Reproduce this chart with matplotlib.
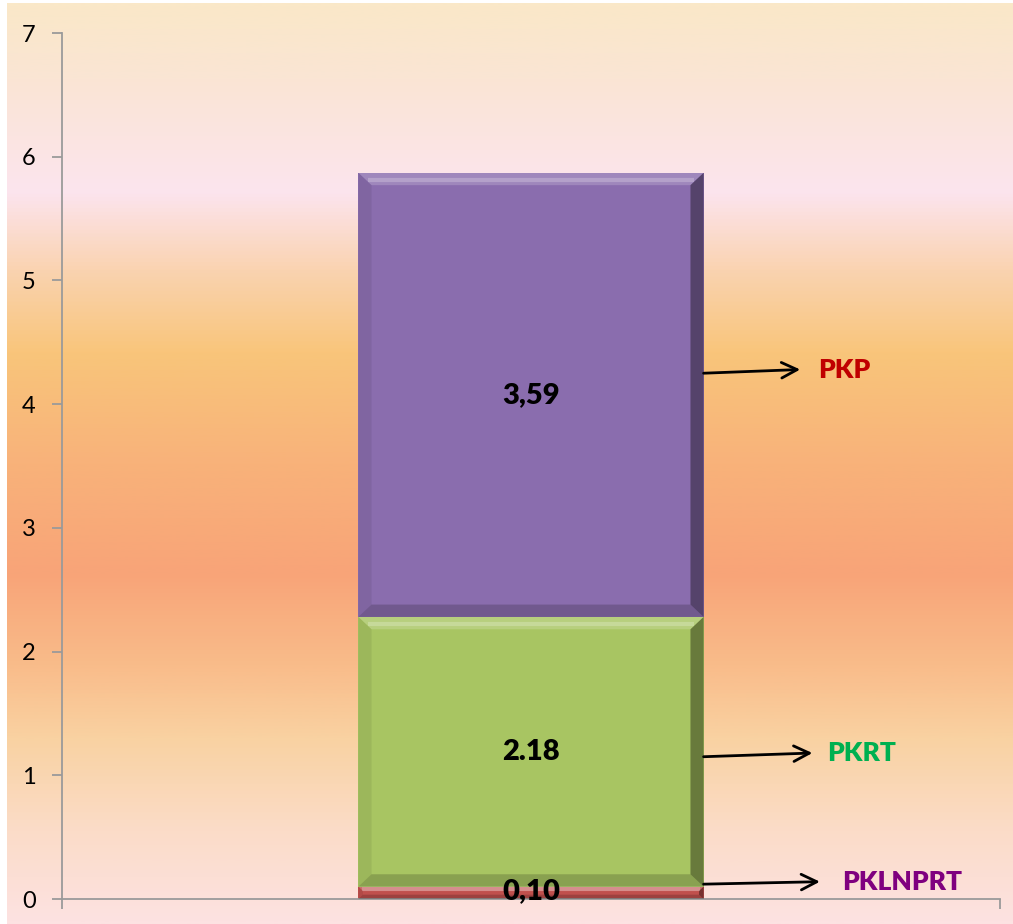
import numpy as np
import matplotlib
matplotlib.use("Agg")
import matplotlib.pyplot as plt
from matplotlib.colors import LinearSegmentedColormap
from matplotlib.patches import Polygon

# ---- data ----
categories = [""]
series_names = ["PKLNPRT", "PKRT", "PKP"]
series_values = [0.10, 2.18, 3.59]
value_labels = ["0,10", "2.18", "3,59"]
yticks = [0, 1, 2, 3, 4, 5, 6, 7]

# ---- style ----
bar_colors = ["#C0504D", "#A8C562", "#8A6DAE"]
name_colors = ["#7F007F", "#00B050", "#C00000"]
FONT = ["Lato", "DejaVu Sans"]
plt.rcParams["font.family"] = FONT

W, H = 1013, 924
fig = plt.figure(figsize=(W / 100, H / 100), dpi=100)
fig.patch.set_facecolor("white")

# background gradient
bg = fig.add_axes([7 / W, 0, 1 - 7 / W, 1 - 3 / H])
bg.set_axis_off()
stops = [(0.0, "#FAE8C8"), (0.08, "#FAE5D4"), (0.205, "#FCE4EE"), (0.29, "#FAD3B0"),
         (0.38, "#F9C57A"), (0.50, "#F8B27A"), (0.62, "#F8A478"), (0.72, "#F9BC8A"),
         (0.80, "#F9D2A2"), (0.90, "#FBDCC8"), (1.0, "#FDE2E2")]
cmap = LinearSegmentedColormap.from_list("bgc", stops)
grad = np.linspace(0, 1, 512).reshape(-1, 1)
bg.imshow(grad, aspect="auto", cmap=cmap, extent=[0, 1, 0, 1], origin="upper")

ax = fig.add_axes([62 / W, (H - 899) / H, (1000 - 62) / W, (899 - 33) / H])
ax.set_facecolor("none")

x = np.arange(len(categories))
width = 0.368
bottom = np.zeros(len(categories))
bars_all = []
for vals, col in zip(series_values, bar_colors):
    b = ax.bar(x, [vals], width, bottom=bottom, color=col, edgecolor="none", zorder=2)
    bars_all.append(b)
    bottom = bottom + np.array([vals])

ax.set_xlim(-0.5, 0.5)
ax.set_ylim(0, 7)

# bevel effect derived from each bar patch geometry
def bevel(patch):
    x0, y0 = patch.get_x(), patch.get_y()
    w, h = patch.get_width(), patch.get_height()
    bx = 0.014
    by = min(0.10, h * 0.35)
    bxx = min(bx, bx * by / 0.10)
    x1, y1 = x0 + w, y0 + h
    polys = [
        ([(x0, y1), (x1, y1), (x1 - bxx, y1 - by), (x0 + bxx, y1 - by)], "white", 0.18),
        ([(x0, y0), (x1, y0), (x1 - bxx, y0 + by), (x0 + bxx, y0 + by)], "black", 0.18),
        ([(x0, y0), (x0, y1), (x0 + bxx, y1 - by), (x0 + bxx, y0 + by)], "black", 0.07),
        ([(x1, y0), (x1, y1), (x1 - bxx, y1 - by), (x1 - bxx, y0 + by)], "black", 0.38),
    ]
    for pts, c, a in polys:
        ax.add_patch(Polygon(pts, closed=True, facecolor=c, alpha=a, edgecolor="none", zorder=3))
    ax.plot([x0 + bxx * 0.7, x1 - bxx * 0.7], [y1 - by * 0.6, y1 - by * 0.6], color="white",
            alpha=0.22, lw=3, zorder=3, solid_capstyle="butt")

for b in bars_all:
    for p in b.patches:
        bevel(p)

# value labels centred in segments
for b, lab in zip(bars_all, value_labels):
    for p in b.patches:
        cx = p.get_x() + p.get_width() / 2
        cy = p.get_y() + p.get_height() / 2
        if p.get_height() < 0.3:
            cy = p.get_y() + 0.06
        ax.text(cx, cy, lab, ha="center", va="center", fontsize=21, fontweight="heavy",
                color="black", zorder=5)

# series name annotations with arrows
right_edge = bars_all[0].patches[0].get_x() + bars_all[0].patches[0].get_width()
ann_layout = [  # (start_y, end_x, end_y, text_x, text_y)
    (0.12, 0.308, 0.14, 0.332, 0.14),
    (1.15, 0.300, 1.18, 0.316, 1.18),
    (4.25, 0.287, 4.28, 0.306, 4.28),
]
for name, col, (sy, ex, ey, tx, ty) in zip(series_names, name_colors, ann_layout):
    ax.annotate("", xy=(ex, ey), xytext=(right_edge, sy),
                arrowprops=dict(arrowstyle="->", lw=2, color="black", mutation_scale=28,
                                shrinkA=0, shrinkB=0), zorder=4)
    ax.text(tx, ty, name, ha="left", va="center", fontsize=19, fontweight="heavy",
            color=col, zorder=5)

# axes styling
for s in ["top", "right"]:
    ax.spines[s].set_visible(False)
for s in ["left", "bottom"]:
    ax.spines[s].set_color("#9A9A9A")
    ax.spines[s].set_linewidth(1.3)
ax.set_yticks(yticks)
ax.set_yticklabels([str(t) for t in yticks])
ax.tick_params(axis="y", direction="out", length=7, width=1.3, color="#9A9A9A",
               labelsize=17, pad=12, labelcolor="black")
ax.set_xticks([-0.5, 0.5])
ax.set_xticklabels(["", ""])
ax.tick_params(axis="x", direction="out", length=7, width=1.3, color="#9A9A9A")

fig.savefig("out.png", dpi=100)
